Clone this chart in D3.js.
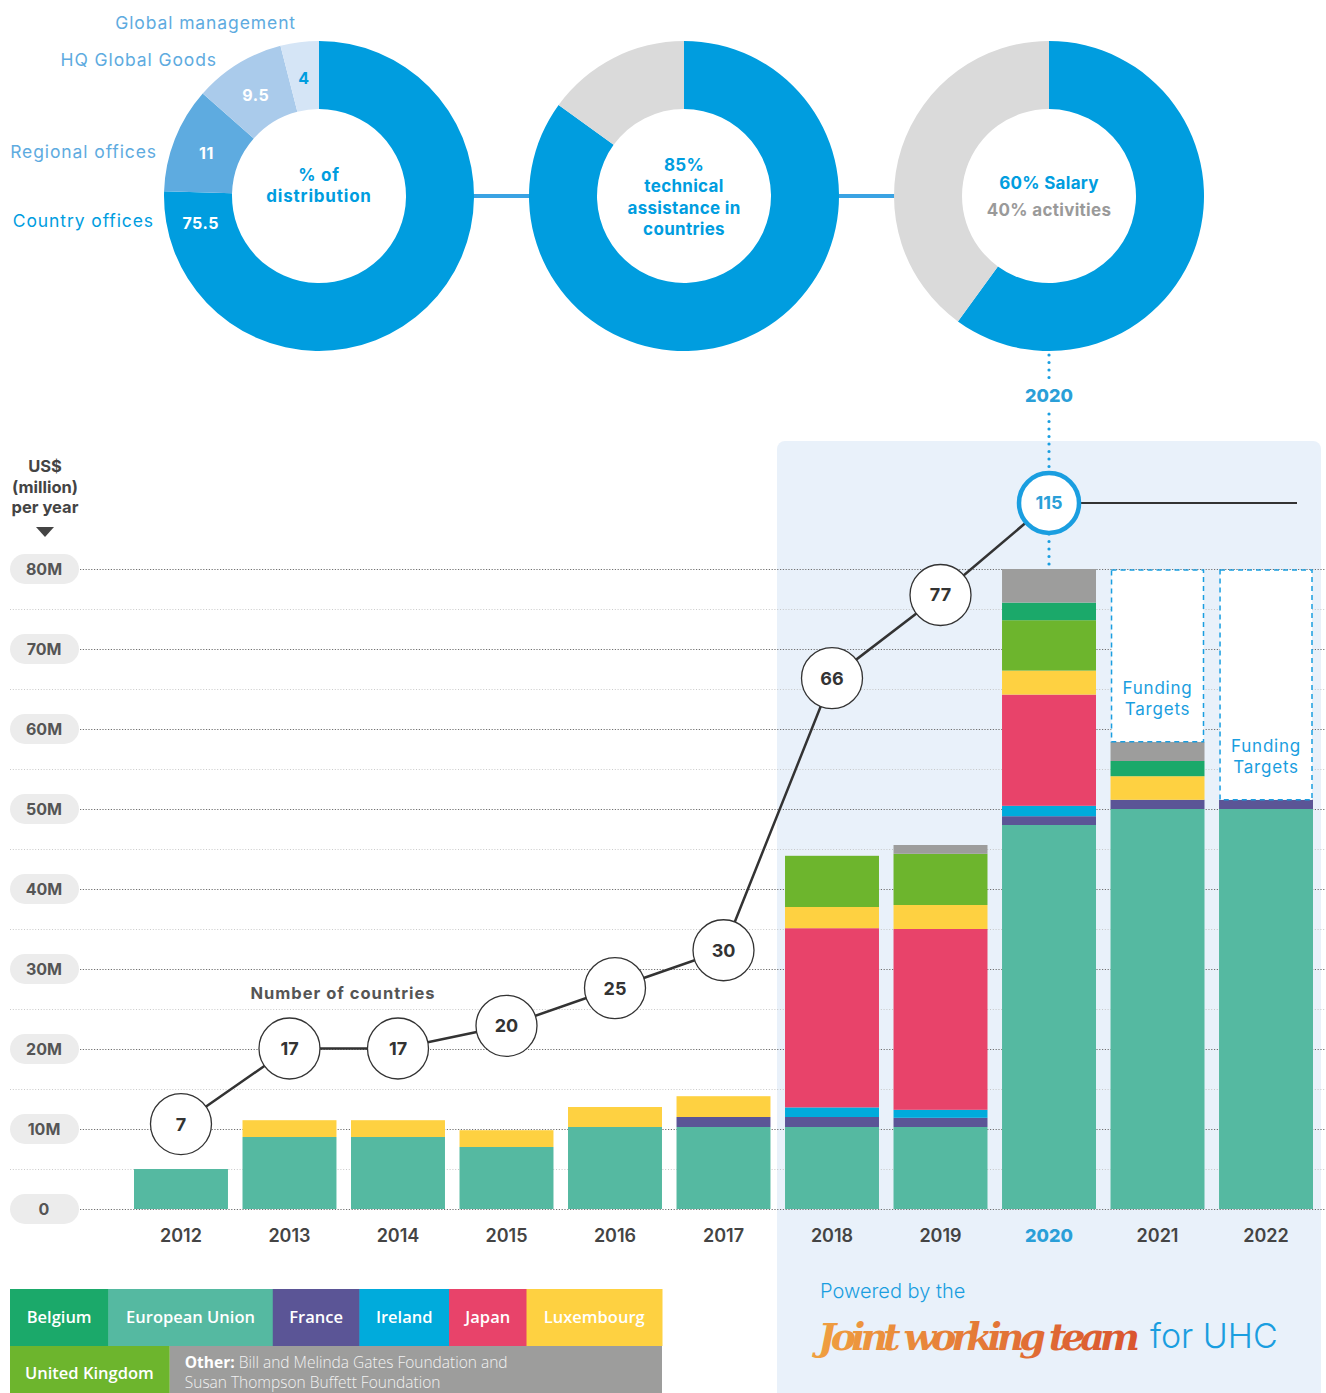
<!DOCTYPE html>
<html>
<head>
<meta charset="utf-8">
<script src="https://cdn.jsdelivr.net/npm/d3@7"></script>
<style>
  body { margin: 0; background: #fff; }
  svg { display: block; font-family: Inter, 'Noto Sans', sans-serif; }
</style>
</head>
<body>
<svg width="1326" height="1393"></svg>
<script>
// ---- data ----
var years = ['2012', '2013', '2014', '2015', '2016', '2017', '2018', '2019', '2020', '2021', '2022']
var donors = ['European Union', 'France', 'Ireland', 'Japan', 'Luxembourg', 'United Kingdom', 'Belgium', 'Other']

var europeanUnion = [5, 9, 9, 7.75, 10.25, 10.25, 10.25, 10.25, 48, 50, 50]
var france = [0, 0, 0, 0, 0, 1.25, 1.25, 1.15, 1.1, 1.15, 1.15]
var ireland = [0, 0, 0, 0, 0, 0, 1.2, 1.0, 1.3, 0, 0]
var japan = [0, 0, 0, 0, 0, 0, 22.4, 22.6, 13.9, 0, 0]
var luxembourg = [0, 2.1, 2.1, 2.1, 2.5, 2.6, 2.65, 3.0, 3.0, 2.95, 0]
var unitedKingdom = [0, 0, 0, 0, 0, 0, 6.4, 6.4, 6.3, 0, 0]
var belgium = [0, 0, 0, 0, 0, 0, 0, 0, 2.2, 1.9, 0]
var other = [0, 0, 0, 0, 0, 0, 0, 1.1, 4.2, 2.4, 0]
var fundingTargets = [null, null, null, null, null, null, null, null, null, 80, 80]

var countryYears = ['2012', '2013', '2014', '2015', '2016', '2017', '2018', '2019', '2020']
var countries = [7, 17, 17, 20, 25, 30, 66, 77, 115]

var yTicks = [0, 10, 20, 30, 40, 50, 60, 70, 80]

var distribution = [
  { label: 'Country offices', value: 75.5 },
  { label: 'Regional offices', value: 11 },
  { label: 'HQ Global Goods', value: 9.5 },
  { label: 'Global management', value: 4 }
]
var technicalShare = [85, 15]
var salaryShare = [60, 40]

var colors = {
  'European Union': '#55b9a1',
  'France': '#5b5596',
  'Ireland': '#00abdc',
  'Japan': '#e8436a',
  'Luxembourg': '#fed141',
  'United Kingdom': '#6db52d',
  'Belgium': '#1ba96a',
  'Other': '#9d9d9c'
}
var legendRow1 = ['Belgium', 'European Union', 'France', 'Ireland', 'Japan', 'Luxembourg']

var blue = '#009ddf'
var lineBlue = '#1a9ee0'
var grey = '#dadada'

var seriesByDonor = {
  'European Union': europeanUnion,
  'France': france,
  'Ireland': ireland,
  'Japan': japan,
  'Luxembourg': luxembourg,
  'United Kingdom': unitedKingdom,
  'Belgium': belgium,
  'Other': other
}

var table = years.map((yr, i) => {
  var row = { year: yr }
  donors.forEach((k) => { row[k] = seriesByDonor[k][i] })
  row.total = d3.sum(donors, (k) => row[k])
  row.target = fundingTargets[i]
  return row
})

// ---- scales ----
var svg = d3.select('svg')

var x = d3.scaleBand()
  .domain(years)
  .range([134, 1313])
  .paddingInner(0.134)
  .paddingOuter(0)

var y = d3.scaleLinear()
  .domain([0, 80])
  .range([1209, 569])

// countries line uses its own (broken) scale, 115 is pulled down
var cy = d3.scaleLinear()
  .domain([0, 77, 115])
  .range([1177, 595, 503])

var bw = x.bandwidth()
var cx = (yr) => x(yr) + bw / 2

// ---- highlighted panel ----
svg.append('rect')
  .attr('x', x('2018') - 8)
  .attr('y', 441)
  .attr('width', x('2022') + bw + 8 - (x('2018') - 8))
  .attr('height', 1393 - 441 + 20)
  .attr('rx', 8)
  .style('fill', '#e9f1fa')

// ---- grid ----
var gridGr = svg.append('g')
d3.range(0, 81, 5).forEach((v) => {
  var major = v % 10 === 0
  gridGr.append('line')
    .attr('x1', major ? 80 : 10)
    .attr('x2', 1326)
    .attr('y1', y(v) + 0.5)
    .attr('y2', y(v) + 0.5)
    .style('stroke', major ? '#6f6f6f' : '#bdbdbd')
    .style('stroke-width', major ? 1 : 0.8)
    .style('stroke-dasharray', major ? '1.2,1.6' : '1,1.8')
})

// y labels as pills
var yLab = svg.append('g').selectAll('g')
  .data(yTicks)
  .enter()
  .append('g')
  .attr('transform', (d) => 'translate(44,' + y(d) + ')')

yLab.append('rect')
  .attr('x', -34)
  .attr('y', -15)
  .attr('width', 69)
  .attr('height', 30)
  .attr('rx', 15)
  .style('fill', '#ececec')

yLab.append('text')
  .attr('text-anchor', 'middle')
  .attr('dy', '0.36em')
  .style('font-size', '16px')
  .style('font-weight', 700)
  .style('fill', '#555')
  .text((d) => d === 0 ? '0' : d + 'M')

var yTitle = svg.append('g')
  .attr('text-anchor', 'middle')
  .style('font-size', '16.5px')
  .style('font-weight', 700)
  .style('fill', '#444')
;['US$', '(million)', 'per year'].forEach((t, i) => {
  yTitle.append('text')
    .attr('x', 45)
    .attr('y', 472 + i * 20.5)
    .text(t)
})
svg.append('path')
  .attr('d', 'M36,527L54,527L45,537Z')
  .style('fill', '#444')

// ---- stacked bars ----
var stack = d3.stack().keys(donors)
var layers = stack(table)

svg.append('g').selectAll('g')
  .data(layers)
  .enter()
  .append('g')
  .style('fill', (d) => colors[d.key])
  .selectAll('rect')
  .data((d) => d)
  .enter()
  .append('rect')
  .attr('x', (d) => x(d.data.year))
  .attr('width', bw)
  .attr('y', (d) => y(d[1]))
  .attr('height', (d) => y(d[0]) - y(d[1]))

// funding target boxes
var targetRows = table.filter((d) => d.target)
var tGr = svg.append('g').selectAll('g')
  .data(targetRows)
  .enter()
  .append('g')

tGr.append('rect')
  .attr('x', (d) => x(d.year) + 1)
  .attr('width', bw - 2)
  .attr('y', (d) => y(d.target) + 1)
  .attr('height', (d) => y(d.total) - y(d.target) - 1)
  .style('fill', '#fff')
  .style('stroke', lineBlue)
  .style('stroke-width', 1.5)
  .style('stroke-dasharray', '5,4')

tGr.append('text')
  .attr('x', (d) => cx(d.year))
  .attr('y', (d) => y(d.total) - 48)
  .attr('text-anchor', 'middle')
  .style('font-size', '17px')
  .style('fill', lineBlue)
  .style('letter-spacing', '0.8px')
  .call((t) => {
    t.append('tspan').attr('x', (d) => cx(d.year)).text('Funding')
    t.append('tspan').attr('x', (d) => cx(d.year)).attr('dy', 21).text('Targets')
  })

// ---- x axis ----
var xAxis = svg.append('g')
  .attr('transform', 'translate(0,1225)')
  .call(d3.axisBottom(x).tickSize(0).tickPadding(0))

xAxis.select('.domain').remove()
xAxis.selectAll('text')
  .attr('dy', '0.35em')
  .attr('y', 11)
  .style('font-family', 'Inter, sans-serif')
  .style('font-size', '18px')
  .style('font-weight', (d) => d === '2020' ? 800 : 600)
  .style('fill', (d) => d === '2020' ? '#2a9fd8' : '#444')

// ---- top donuts ----
var R = 155
var r0 = 87
var donutY = 196
var c3 = cx('2020')
var centers = [c3 - 730, c3 - 365, c3]

var pie = d3.pie().sort(null)
var arc = d3.arc().innerRadius(r0).outerRadius(R)

// connectors
svg.append('g').selectAll('line')
  .data([0, 1])
  .enter()
  .append('line')
  .attr('x1', (i) => centers[i] + R - 2)
  .attr('x2', (i) => centers[i + 1] - R + 2)
  .attr('y1', donutY)
  .attr('y2', donutY)
  .style('stroke', '#3aa3e3')
  .style('stroke-width', 4)

// donut 1
var distColors = [blue, '#5eabe0', '#aacbeb', '#d5e5f6']
var d1 = svg.append('g').attr('transform', 'translate(' + centers[0] + ',' + donutY + ')')
var distArcs = pie.value((d) => d.value)(distribution)

d1.selectAll('path')
  .data(distArcs)
  .enter()
  .append('path')
  .attr('d', arc)
  .style('fill', (d, i) => distColors[i])

var labelArc = (d, i) => {
  var a = i === 0 ? d.endAngle - 0.24 : (d.startAngle + d.endAngle) / 2
  var rr = (R + r0) / 2
  return [rr * Math.sin(a), -rr * Math.cos(a)]
}

d1.selectAll('.val')
  .data(distArcs)
  .enter()
  .append('text')
  .attr('class', 'val')
  .attr('x', (d, i) => labelArc(d, i)[0])
  .attr('y', (d, i) => labelArc(d, i)[1] + 2)
  .attr('dy', '0.36em')
  .attr('text-anchor', 'middle')
  .style('font-size', '16px')
  .style('font-weight', 700)
  .style('letter-spacing', '0.5px')
  .style('fill', (d, i) => i === 3 ? blue : '#fff')
  .text((d) => d.data.value)

// outside names
var nameOffsets = [[-165, 0], [-162, 0], [-102, -136], [-23, -173]]
d1.selectAll('.name')
  .data(distArcs)
  .enter()
  .append('text')
  .attr('class', 'name')
  .attr('x', (d, i) => nameOffsets[i][0])
  .attr('y', (d, i) => i < 2 ? labelArc(d, i)[1] : nameOffsets[i][1])
  .attr('dy', '0.36em')
  .attr('text-anchor', 'end')
  .style('font-size', '17.5px')
  .style('letter-spacing', '0.9px')
  .style('fill', (d, i) => i === 0 ? blue : '#5eabe0')
  .text((d) => d.data.label)

var centerText = (g, lines, top, step, ls) => {
  lines.forEach((l, i) => {
    g.append('text')
      .attr('y', top + i * step)
      .attr('dy', '0.36em')
      .attr('text-anchor', 'middle')
      .style('font-size', '17px')
      .style('font-weight', 700)
      .style('letter-spacing', ls)
      .style('fill', l.c || blue)
      .text(l.t)
  })
}
centerText(d1, [{ t: '% of' }, { t: 'distribution' }], -21, 21, '0.8px')

// donut 2
var d2 = svg.append('g').attr('transform', 'translate(' + centers[1] + ',' + donutY + ')')
d2.selectAll('path')
  .data(pie.value((d) => d)(technicalShare))
  .enter()
  .append('path')
  .attr('d', arc)
  .style('fill', (d, i) => i === 0 ? blue : grey)
centerText(d2, [{ t: '85%' }, { t: 'technical' }, { t: 'assistance in' }, { t: 'countries' }], -31, 21.3, '0.3px')

// donut 3
var d3g = svg.append('g').attr('transform', 'translate(' + centers[2] + ',' + donutY + ')')
d3g.selectAll('path')
  .data(pie.value((d) => d)(salaryShare))
  .enter()
  .append('path')
  .attr('d', arc)
  .style('fill', (d, i) => i === 0 ? blue : grey)
centerText(d3g, [{ t: '60% Salary' }, { t: '40% activities', c: '#9a9a9a' }], -13, 27, '0.3px')

// ---- dotted link from donut to 2020 bar ----
var dotted = [[donutY + R + 4, 378], [414, y(80)]]
svg.append('g').selectAll('line')
  .data(dotted)
  .enter()
  .append('line')
  .attr('x1', c3)
  .attr('x2', c3)
  .attr('y1', (d) => d[0])
  .attr('y2', (d) => d[1])
  .style('stroke', lineBlue)
  .style('stroke-width', 3.2)
  .style('stroke-linecap', 'round')
  .style('stroke-dasharray', '0,7.5')

svg.append('text')
  .attr('x', c3)
  .attr('y', 396)
  .attr('dy', '0.36em')
  .attr('text-anchor', 'middle')
  .style('font-size', '18px')
  .style('font-weight', 800)
  .style('fill', '#2a9fd8')
  .text('2020')

// ---- number of countries line ----
var pts = countryYears.map((yr, i) => ({ year: yr, n: countries[i] }))
var last = pts[pts.length - 1]

svg.append('line')
  .attr('x1', cx(last.year))
  .attr('x2', x('2022') + bw - 16)
  .attr('y1', cy(last.n))
  .attr('y2', cy(last.n))
  .style('stroke', '#333')
  .style('stroke-width', 2)

svg.append('path')
  .datum(pts)
  .attr('d', d3.line().x((d) => cx(d.year)).y((d) => cy(d.n)))
  .style('fill', 'none')
  .style('stroke', '#333')
  .style('stroke-width', 2.5)

var nodes = svg.append('g').selectAll('g')
  .data(pts)
  .enter()
  .append('g')
  .attr('transform', (d) => 'translate(' + cx(d.year) + ',' + cy(d.n) + ')')

nodes.append('circle')
  .attr('r', (d) => d.year === '2020' ? 30 : 30.5)
  .style('fill', '#fff')
  .style('stroke', (d) => d.year === '2020' ? lineBlue : '#333')
  .style('stroke-width', (d) => d.year === '2020' ? 4.5 : 1.3)

nodes.append('text')
  .attr('text-anchor', 'middle')
  .attr('dy', '0.36em')
  .style('font-size', '18px')
  .style('font-weight', 700)
  .style('fill', (d) => d.year === '2020' ? '#2a9fd8' : '#333')
  .text((d) => d.n)

svg.append('text')
  .attr('x', 343)
  .attr('y', 993)
  .attr('dy', '0.36em')
  .attr('text-anchor', 'middle')
  .style('font-size', '16.5px')
  .style('font-weight', 700)
  .style('letter-spacing', '1px')
  .style('fill', '#555')
  .text('Number of countries')

// ---- legend ----
var legGr = svg.append('g').style('font-family', "'Open Sans', 'Noto Sans', sans-serif")
var legLeft = 10
var legRight = 662

var row1 = legendRow1.map((k) => {
  var t = legGr.append('text')
    .attr('y', 1317)
    .attr('dy', '0.36em')
    .style('font-size', '16.5px')
    .style('font-weight', 600)
    .style('fill', '#fff')
    .text(k)
  return { key: k, t: t, w: t.node().getComputedTextLength() + 30 }
})
var k1 = (legRight - legLeft) / d3.sum(row1, (d) => d.w)
var lx = legLeft
row1.forEach((d) => {
  var w = d.w * k1
  legGr.insert('rect', 'text')
    .attr('x', lx)
    .attr('y', 1289)
    .attr('width', w + 0.5)
    .attr('height', 57)
    .style('fill', colors[d.key])
  d.t.attr('x', lx + w / 2).attr('text-anchor', 'middle')
  lx += w
})

var ukT = legGr.append('text')
  .attr('x', 25)
  .attr('y', 1373)
  .attr('dy', '0.36em')
  .style('font-size', '16.5px')
  .style('font-weight', 600)
  .style('fill', '#fff')
  .text('United Kingdom')
var ukW = ukT.node().getComputedTextLength() + 31
legGr.insert('rect', 'text')
  .attr('x', legLeft)
  .attr('y', 1346)
  .attr('width', ukW)
  .attr('height', 60)
  .style('fill', colors['United Kingdom'])

legGr.insert('rect', 'text')
  .attr('x', legLeft + ukW)
  .attr('y', 1346)
  .attr('width', legRight - legLeft - ukW)
  .attr('height', 60)
  .style('fill', colors['Other'])

var oT = legGr.append('text')
  .attr('x', 25 + ukW)
  .attr('y', 1362)
  .attr('dy', '0.36em')
  .style('font-size', '15.5px')
  .style('fill', '#f2f2f2')
oT.append('tspan').style('font-weight', 700).style('fill', '#fff').text('Other:')
oT.append('tspan').style('font-weight', 300).text(' Bill and Melinda Gates Foundation and')
legGr.append('text')
  .attr('x', 25 + ukW)
  .attr('y', 1382)
  .attr('dy', '0.36em')
  .style('font-size', '15.5px')
  .style('font-weight', 300)
  .style('fill', '#f2f2f2')
  .text('Susan Thompson Buffett Foundation')

// ---- powered by ----
var grad = svg.append('defs').append('linearGradient')
  .attr('id', 'orange')
  .attr('x1', '0%').attr('x2', '100%')
grad.append('stop').attr('offset', '0%').attr('stop-color', '#f0a040')
grad.append('stop').attr('offset', '100%').attr('stop-color', '#d9542f')

svg.append('text')
  .attr('x', 820)
  .attr('y', 1298)
  .style('font-size', '20px')
  .style('font-weight', 300)
  .style('fill', lineBlue)
  .text('Powered by the')

svg.append('text')
  .attr('x', 818)
  .attr('y', 1350)
  .attr('textLength', 322)
  .style('font-family', "'DejaVu Serif', serif")
  .style('font-style', 'italic')
  .style('font-weight', 700)
  .style('font-size', '38px')
  .style('fill', 'url(#orange)')
  .text('Joint working team')

svg.append('text')
  .attr('x', 1150)
  .attr('y', 1348)
  .style('font-size', '34px')
  .style('font-weight', 300)
  .style('fill', lineBlue)
  .text('for UHC')
</script>
</body>
</html>
